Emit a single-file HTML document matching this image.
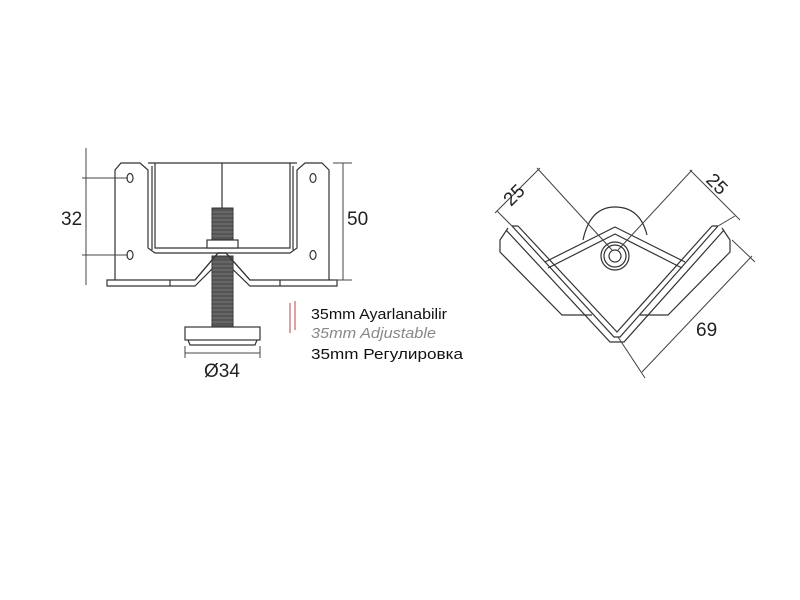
<!DOCTYPE html>
<html><head><style>
html,body{margin:0;padding:0;background:#fff;}
svg{display:block;font-family:"Liberation Sans",sans-serif;}
</style></head><body>
<svg width="800" height="600" viewBox="0 0 800 600">
<g fill="none" stroke="#333" stroke-width="1.2">
<path d="M115,280 L115,170 L121,163 L140,163 L148,170 L148,248 L155,253 L290,253 L297,248 L297,170 L305,163 L322,163 L329,170 L329,280"/>
<path d="M155,163 L155,248 L290,248 L290,163 M148,163 L297,163"/>
<path d="M152,166 L152,250 M293,166 L293,250"/>
<path d="M107,280 L195,280 L218,253 L226,253 L250,280 L337,280 L337,286 L250,286 L222,259 L195,286 L107,286 Z"/>
<path d="M170,280 L170,286 M280,280 L280,286"/>
<line x1="222" y1="163" x2="222" y2="208"/>
<ellipse cx="130" cy="178" rx="3" ry="4.5"/><ellipse cx="130" cy="255" rx="3" ry="4.5"/>
<ellipse cx="313" cy="178" rx="3" ry="4.5"/><ellipse cx="313" cy="255" rx="3" ry="4.5"/>
<rect x="185" y="327" width="75" height="13"/>
<path d="M188,340 L190,345 L255,345 L257,340"/>
<g stroke="#444" stroke-width="1">
<line x1="86" y1="148" x2="86" y2="285"/>
<line x1="82" y1="178" x2="128" y2="178"/><line x1="82" y1="255" x2="128" y2="255"/>
<line x1="343" y1="163" x2="343" y2="280"/>
<line x1="333" y1="163" x2="352" y2="163"/><line x1="333" y1="280" x2="352" y2="280"/>
<line x1="185" y1="346" x2="185" y2="358"/><line x1="260" y1="346" x2="260" y2="358"/>
<line x1="185" y1="353" x2="260" y2="353"/>
</g>
</g>
<rect x="212" y="208" width="21" height="32" fill="#555" stroke="#333"/>
<rect x="212" y="256" width="21" height="71" fill="#555" stroke="#333"/>
<g stroke="#999" stroke-width="0.6">
<path d="M212,212h21M212,216h21M212,220h21M212,224h21M212,228h21M212,232h21M212,236h21M212,262h21M212,266h21M212,270h21M212,274h21M212,278h21M212,282h21M212,286h21M212,290h21M212,294h21M212,298h21M212,302h21M212,306h21M212,310h21M212,314h21M212,318h21M212,322h21"/>
</g>
<rect x="207" y="240" width="31" height="8" fill="#fff" stroke="#333" stroke-width="1.2"/>
<path d="M195,280 L218,253 L226,253 L250,280" fill="none" stroke="#333" stroke-width="1.2"/>
<g font-size="19" fill="#222">
<text x="61" y="225">32</text>
<text x="347" y="225">50</text>
<text x="222" y="377" text-anchor="middle">Ø34</text>
</g>
<line x1="290" y1="303" x2="290" y2="333" stroke="#b44" stroke-width="1"/>
<line x1="295" y1="301" x2="295" y2="330" stroke="#b44" stroke-width="1"/>
<text x="311" y="319" font-size="15" fill="#111" textLength="136" lengthAdjust="spacingAndGlyphs">35mm Ayarlanabilir</text>
<text x="311" y="338" font-size="15" fill="#888" font-style="italic" textLength="125" lengthAdjust="spacingAndGlyphs">35mm Adjustable</text>
<text x="311" y="359" font-size="15" fill="#111" textLength="152" lengthAdjust="spacingAndGlyphs">35mm Регулировка</text>

<g fill="none" stroke="#333" stroke-width="1.2">
<path d="M508,228 L500,240 L500,252 L562,315 L592,315"/>
<path d="M722,228 L730,240 L730,252 L668,315 L640,315"/>
<path d="M512,226 L614,337 L620,337 L718,226"/>
<path d="M506,230 L610,342 L624,342 L724,230"/>
<path d="M518,226 L617,332 L712,226"/>
<path d="M512,226 L518,226 M718,226 L712,226"/>
<path d="M545,262 L615,227 L685,262 M548,268 L615,234 L682,268"/>
<path d="M583,240 Q590,207 615,207 Q640,207 647,235"/>
<circle cx="615" cy="256" r="14"/><circle cx="615" cy="256" r="11"/><circle cx="615" cy="256" r="6"/>
<g stroke="#444" stroke-width="1">
<line x1="495" y1="213" x2="540" y2="168"/>
<line x1="537" y1="168" x2="612" y2="250"/>
<line x1="497" y1="211" x2="512" y2="226"/>
<line x1="690" y1="170" x2="740" y2="220"/>
<line x1="692" y1="170" x2="618" y2="250"/>
<line x1="735" y1="216" x2="718" y2="226"/>
<line x1="752" y1="256" x2="642" y2="372"/>
<line x1="618" y1="337" x2="645" y2="378"/>
<line x1="732" y1="240" x2="755" y2="262"/>
</g>
</g>
<g font-size="19" fill="#222">
<text x="0" y="0" transform="translate(511,207) rotate(-45)">25</text>
<text x="0" y="0" transform="translate(705,181) rotate(45)">25</text>
<text x="696" y="336">69</text>
</g>
</svg>
</body></html>
